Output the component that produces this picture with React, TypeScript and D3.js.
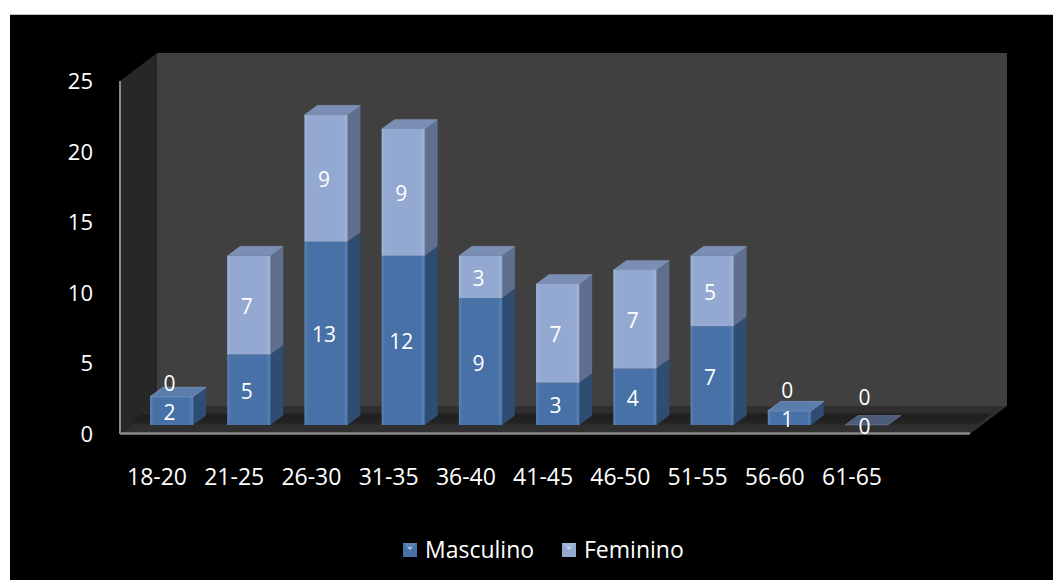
import React from "react";
import * as d3 from "d3";

const categories = ["18-20", "21-25", "26-30", "31-35", "36-40", "41-45", "46-50", "51-55", "56-60", "61-65"];
const masculino = [2, 5, 13, 12, 9, 3, 4, 7, 1, 0];
const feminino = [0, 7, 9, 9, 3, 7, 7, 5, 0, 0];
const yTicks = [0, 5, 10, 15, 20, 25];
const seriesNames = ["Masculino", "Feminino"];

const W = 1053;
const H = 580;
const FONT = "'Open Sans', 'DejaVu Sans', sans-serif";

// colours per series: front, side, top
const COLORS = [
  { front: "#4872a7", frontEdge: "#5a83b6", side: "#2f4c72", top: "#5b7dab" },
  { front: "#93a9d1", frontEdge: "#a3b7dc", side: "#5f6f8d", top: "#7b8fb4" },
];

export default function App() {
  const yFront = d3.scaleLinear().domain([0, 25]).range([434, 81]);
  const yBar = d3.scaleLinear().domain([0, 25]).range([425, 72.5]);
  const xBar = d3.scaleLinear().domain([0, categories.length - 1]).range([150, 845]);
  const BW = 43;
  const DX = 13;
  const DY = -9.5;
  const WX = 37;
  const WY = -28;

  const frontL = 120;
  const frontR = 970;
  const y0f = yFront(0);
  const ytop = yFront(25);

  const bars: React.ReactNode[] = [];
  const labels: React.ReactNode[] = [];

  categories.forEach((c, i) => {
    const x = xBar(i);
    const segs = [masculino[i], feminino[i]];
    let base = 0;
    const total = segs[0] + segs[1];
    const segLabelY: number[] = [];
    segs.forEach((v, s) => {
      const yb = yBar(base);
      const yt = yBar(base + v);
      const col = COLORS[s];
      if (v > 0) {
        bars.push(
          <g key={`b${i}-${s}`}>
            <rect x={x} y={yt} width={BW} height={yb - yt} fill={`url(#gf${s})`} />
            <polygon
              points={`${x + BW},${yt} ${x + BW + DX},${yt + DY} ${x + BW + DX},${yb + DY} ${x + BW},${yb}`}
              fill={col.side}
            />
            <line x1={x + BW} x2={x + BW} y1={yt} y2={yb} stroke={col.frontEdge} strokeOpacity={0.5} strokeWidth={1} />
          </g>
        );
      }
      const isTop = s === 1 ? true : segs[1] === 0;
      if (isTop && (v > 0 || (s === 0 && total === 0) || (s === 1 && segs[0] > 0))) {
        const topCol = total === 0 ? "#4d5d79" : COLORS[v > 0 ? s : 0].top;
        bars.push(
          <polygon
            key={`t${i}-${s}`}
            points={`${x},${yt} ${x + DX},${yt + DY} ${x + BW + DX},${yt + DY} ${x + BW},${yt}`}
            fill={topCol}
            stroke="#8ea3c6"
            strokeOpacity={0.35}
            strokeWidth={1}
          />
        );
      }
      let ly = (yb + yt) / 2 + 1.5;
      if (s === 1 && v === 0) {
        ly = Math.min(yt - 9, segLabelY[0] - 29);
      }
      segLabelY.push(ly);
      labels.push(
        <text
          key={`l${i}-${s}`}
          x={x + BW / 2 - 2}
          y={ly}
          dy="0.36em"
          textAnchor="middle"
          fill="#ffffff"
          fontSize={21}
          fontFamily={FONT}
        >
          {v}
        </text>
      );
      base += v;
    });
  });

  return (
    <svg
      width={W}
      height={H}
      style={{ position: "absolute", left: 0, top: 0, display: "block" }}
      xmlns="http://www.w3.org/2000/svg"
    >
      <defs>
        {COLORS.map((c, s) => (
          <linearGradient key={s} id={`gf${s}`} x1="0" x2="1" y1="0" y2="0">
            <stop offset="0" stopColor={c.frontEdge} />
            <stop offset="0.08" stopColor={c.front} />
            <stop offset="0.9" stopColor={c.front} />
            <stop offset="1" stopColor={c.frontEdge} />
          </linearGradient>
        ))}
        <linearGradient id="floorShade" x1="0" x2="0" y1="0" y2="1">
          <stop offset="0" stopColor="#303030" />
          <stop offset="0.2" stopColor="#1f1f1f" />
          <stop offset="0.75" stopColor="#222222" />
          <stop offset="1" stopColor="#2b2b2b" />
        </linearGradient>
      </defs>
      <rect x={0} y={0} width={W} height={H} fill="#ffffff" />
      <rect x={10} y={15} width={W - 10} height={H - 15} fill="#000000" />
      <line x1={10} x2={W} y1={14.5} y2={14.5} stroke="#c4c4c4" strokeWidth={1} />

      {/* back wall */}
      <rect x={frontL + WX} y={ytop + WY} width={frontR - frontL} height={y0f - ytop} fill="#404040" />
      {/* left side wall */}
      <polygon
        points={`${frontL},${ytop} ${frontL + WX},${ytop + WY} ${frontL + WX},${y0f + WY} ${frontL},${y0f}`}
        fill="#272727"
      />
      {/* floor */}
      <polygon
        points={`${frontL},${y0f} ${frontR},${y0f} ${frontR + WX},${y0f + WY} ${frontL + WX},${y0f + WY}`}
        fill="#2f2f2f"
      />
      <polygon
        points={`${frontL + 7},${y0f - 9} ${frontR + 7},${y0f - 9} ${frontR + 24},${y0f - 22} ${frontL + 24},${y0f - 22}`}
        fill="url(#floorShade)"
      />
      <line x1={frontL} x2={frontR} y1={y0f - 0.5} y2={y0f - 0.5} stroke="#8a8a8a" strokeWidth={2.5} />
      <line x1={frontL} x2={frontL} y1={ytop} y2={y0f} stroke="#8a8a8a" strokeWidth={2} />

      {bars}
      {labels}

      {yTicks.map((t) => (
        <text
          key={`y${t}`}
          x={93}
          y={yFront(t)}
          dy="0.36em"
          textAnchor="end"
          fill="#ffffff"
          fontSize={22}
          fontFamily={FONT}
        >
          {t}
        </text>
      ))}

      {categories.map((c, i) => (
        <text
          key={`c${i}`}
          x={xBar(i) + 7}
          y={485}
          textAnchor="middle"
          fill="#ffffff"
          fontSize={23}
          fontFamily={FONT}
        >
          {c}
        </text>
      ))}

      {seriesNames.map((n, s) => {
        const lx = s === 0 ? 403 : 562;
        return (
          <g key={`leg${s}`}>
            <rect x={lx} y={543} width={14} height={14} fill={COLORS[s].front} />
            <polygon points={`${lx},${543} ${lx + 14},${543} ${lx + 10},${547} ${lx + 4},${547}`} fill={COLORS[s].frontEdge} />
            <polygon points={`${lx + 4},${547} ${lx + 10},${547} ${lx + 7},${550}`} fill="#dde6f3" opacity={0.7} />
            <text x={lx + 22} y={558} fill="#ffffff" fontSize={23} fontFamily={FONT}>
              {n}
            </text>
          </g>
        );
      })}
    </svg>
  );
}
